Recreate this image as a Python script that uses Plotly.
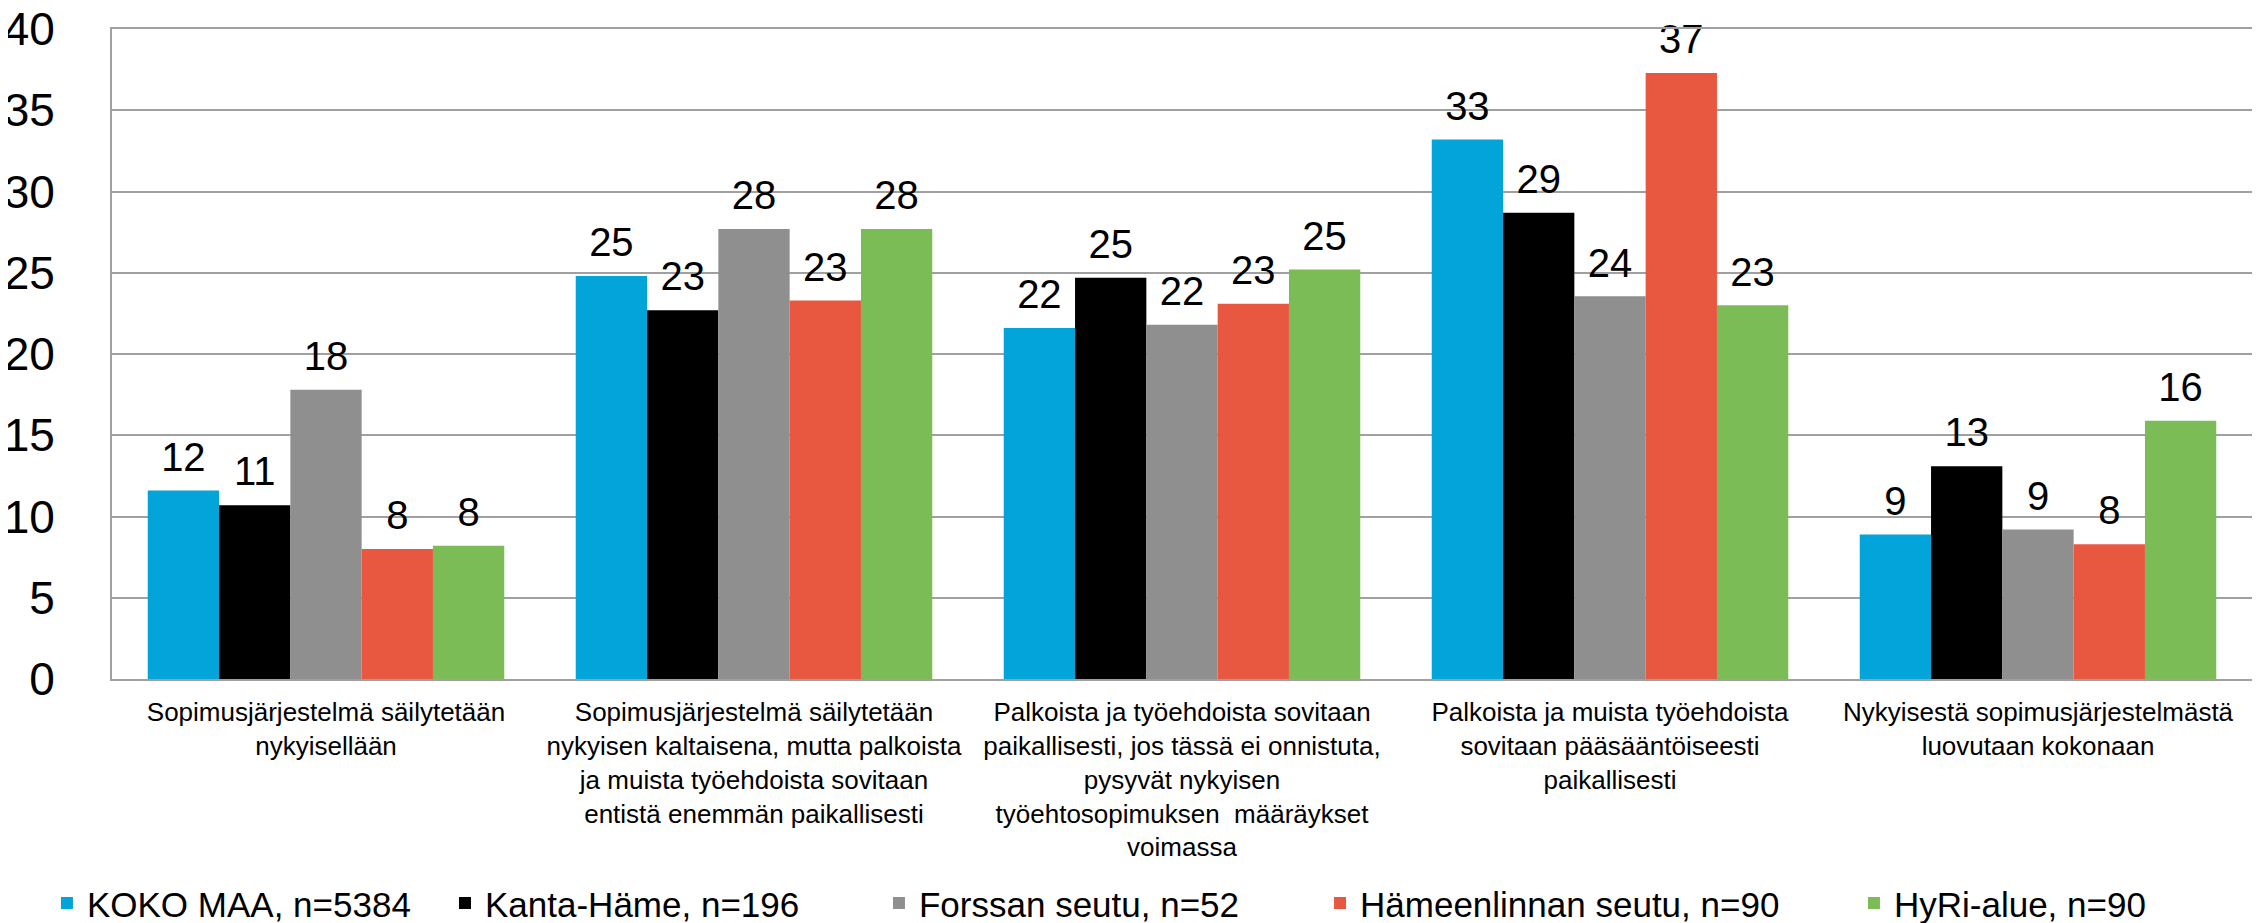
import plotly.graph_objects as go

categories = [
    "Sopimusjärjestelmä säilytetään<br>nykyisellään",
    "Sopimusjärjestelmä säilytetään<br>nykyisen kaltaisena, mutta palkoista<br>ja muista työehdoista sovitaan<br>entistä enemmän paikallisesti",
    "Palkoista ja työehdoista sovitaan<br>paikallisesti, jos tässä ei onnistuta,<br>pysyvät nykyisen<br>työehtosopimuksen\u00a0 määräykset<br>voimassa",
    "Palkoista ja muista työehdoista<br>sovitaan pääsääntöiseesti<br>paikallisesti",
    "Nykyisestä sopimusjärjestelmästä<br>luovutaan kokonaan",
]

series_names = [
    "KOKO MAA, n=5384",
    "Kanta-Häme, n=196",
    "Forssan seutu, n=52",
    "Hämeenlinnan seutu, n=90",
    "HyRi-alue, n=90",
]

koko_maa = [11.6, 24.8, 21.6, 33.2, 8.9]
kanta_hame = [10.7, 22.7, 24.7, 28.7, 13.1]
forssan_seutu = [17.8, 27.7, 21.8, 23.55, 9.2]
hameenlinnan_seutu = [8.0, 23.3, 23.1, 37.3, 8.3]
hyri_alue = [8.2, 27.7, 25.2, 23.0, 15.9]

series_values = [koko_maa, kanta_hame, forssan_seutu, hameenlinnan_seutu, hyri_alue]
colors = ["#02A4DA", "#000000", "#8F8F8F", "#E85840", "#7BBC56"]

y_ticks = [0, 5, 10, 15, 20, 25, 30, 35, 40]

# legend placement (paper x of each legend entry)
legend_x = [-0.0304, 0.1556, 0.3584, 0.5645, 0.8140]

FONT = "Liberation Sans, Arial, sans-serif"
GAP = 0.167

fig = go.Figure()
legend_ids = ["legend", "legend2", "legend3", "legend4", "legend5"]
for i, (name, vals, col) in enumerate(zip(series_names, series_values, colors)):
    fig.add_trace(go.Bar(
        x=categories, y=vals, name=name,
        marker=dict(color=col, line=dict(width=0)),
        offsetgroup=f"g{i}", hoverinfo="skip", legend=legend_ids[i],
    ))
for i, vals in enumerate(series_values):
    fig.add_trace(go.Scatter(
        x=categories, y=vals, mode="markers+text",
        marker=dict(size=14, opacity=0, color="white"),
        text=[f"{v:.0f}" for v in vals], textposition="top center",
        textfont=dict(size=40, color="#000000", family=FONT),
        offsetgroup=f"g{i}", showlegend=False, cliponaxis=False,
        hoverinfo="skip",
    ))

legend_style = dict(
    orientation="h", y=-0.345, xanchor="left", yanchor="middle",
    font=dict(size=35, family=FONT, color="#000000"),
    itemwidth=30, bgcolor="rgba(0,0,0,0)",
)
layout_legends = {lid: dict(legend_style, x=lx) for lid, lx in zip(legend_ids, legend_x)}

# the page body has an 8px default margin; size the figure so the plot lands where the reference's does
fig.update_layout(
    width=2252, height=915,
    margin=dict(l=104, r=8, t=21, b=244, autoexpand=False),
    paper_bgcolor="white", plot_bgcolor="white",
    barmode="group", bargap=GAP, bargroupgap=0,
    scattermode="group", scattergap=GAP,
    font=dict(family=FONT, color="#000000"),
    showlegend=True,
    **layout_legends,
)
fig.update_xaxes(
    showline=True, linecolor="#A0A0A0", linewidth=2, mirror=True,
    showgrid=False, ticks="", tickfont=dict(size=26, family=FONT),
    ticklabelstandoff=9, automargin=False, ticklabeloverflow="allow",
)
fig.update_yaxes(
    range=[0, 40], tickvals=y_ticks,
    showline=True, linecolor="#A0A0A0", linewidth=2, mirror=True,
    showgrid=True, gridcolor="#A0A0A0", gridwidth=2,
    zeroline=False, ticks="", tickfont=dict(size=46, family=FONT),
    ticklabelstandoff=46, automargin=False, ticklabeloverflow="allow",
)

fig.write_html("out.html")
